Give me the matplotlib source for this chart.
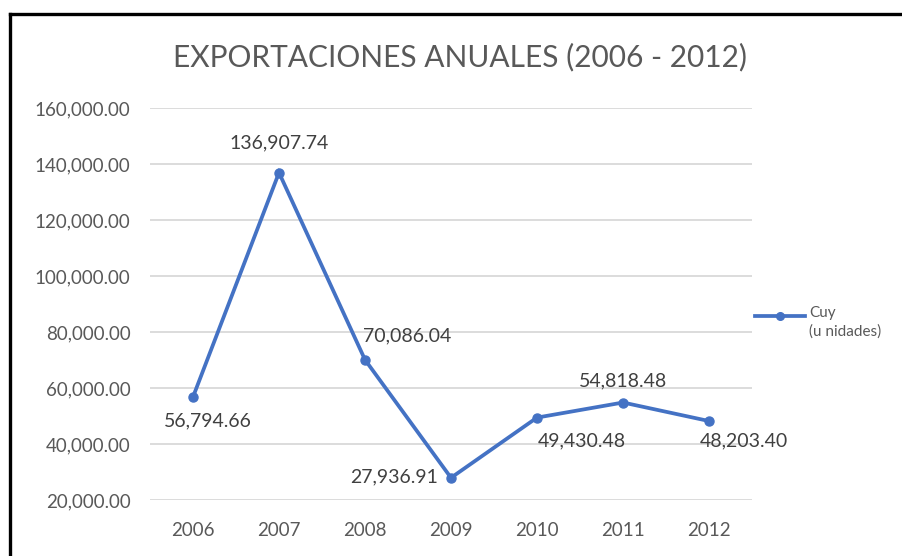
import matplotlib
matplotlib.use("Agg")
import matplotlib.pyplot as plt
from matplotlib.lines import Line2D

years = ["2006", "2007", "2008", "2009", "2010", "2011", "2012"]
values = [56794.66, 136907.74, 70086.04, 27936.91, 49430.48, 54818.48, 48203.40]
yticks = [20000, 40000, 60000, 80000, 100000, 120000, 140000, 160000]
title = "EXPORTACIONES ANUALES (2006 - 2012)"
series_name = "Cuy\n(u nidades)"

plt.rcParams['font.family'] = ['Lato', 'DejaVu Sans']
W, H = 902, 556
fig = plt.figure(figsize=(W / 100, H / 100), dpi=100)
ax = fig.add_axes([150 / W, 1 - 500 / H, (752 - 150) / W, (500 - 108) / H])

x = list(range(len(years)))
color = "#4472C4"
ax.plot(x, values, color=color, lw=2.7, marker="o", ms=6.5, solid_joinstyle="miter")
ax.set_xlim(-0.5, len(years) - 0.5)
ax.set_ylim(20000, 160000)
ax.set_yticks(yticks)
ax.set_yticklabels([f"{v:,.2f}" for v in yticks])
ax.set_xticks(x)
ax.set_xticklabels(years)
ax.yaxis.grid(True, color="#D9D9D9", lw=1.3)
ax.set_axisbelow(True)
for s in ax.spines.values():
    s.set_visible(False)
ax.tick_params(length=0, labelsize=13.5, labelcolor="#595959")
ax.tick_params(axis="y", pad=14)
ax.tick_params(axis="x", pad=16)

# data labels (offsets in pixels -> points)
px = 0.72
offsets = [(15, -24, "center"), (0, 30, "center"), (42, 24, "center"), (-13, 1, "right"),
           (45, -23, "center"), (0, 22, "center"), (35, -20, "center")]
for xi, v, (dx, dy, ha) in zip(x, values, offsets):
    ax.annotate(f"{v:,.2f}", (xi, v), xytext=(dx * px, dy * px), textcoords="offset points",
                ha=ha, va="center", fontsize=14, color="#404040")

fig.text(460 / W, 1 - 57 / H, title, ha="center", va="center", fontsize=21.5, color="#595959")

# legend
fig.add_artist(Line2D([755 / W, 805 / W], [1 - 316 / H, 1 - 316 / H], color=color, lw=2.7,
                      transform=fig.transFigure))
fig.add_artist(Line2D([780 / W], [1 - 316 / H], color=color, marker="o", ms=5.5,
                      transform=fig.transFigure))
fig.text(809 / W, 1 - 306 / H, series_name, ha="left", va="top", fontsize=11,
         color="#595959", linespacing=1.35, transform=fig.transFigure)

# outer frame (top and left visible)
fig.add_artist(Line2D([10 / W, 1.0], [1 - 14 / H, 1 - 14 / H], color="black", lw=2.4,
                      transform=fig.transFigure))
fig.add_artist(Line2D([10 / W, 10 / W], [0, 1 - 14 / H], color="black", lw=2.4,
                      transform=fig.transFigure))

fig.savefig("out.png", dpi=100, facecolor="white")
